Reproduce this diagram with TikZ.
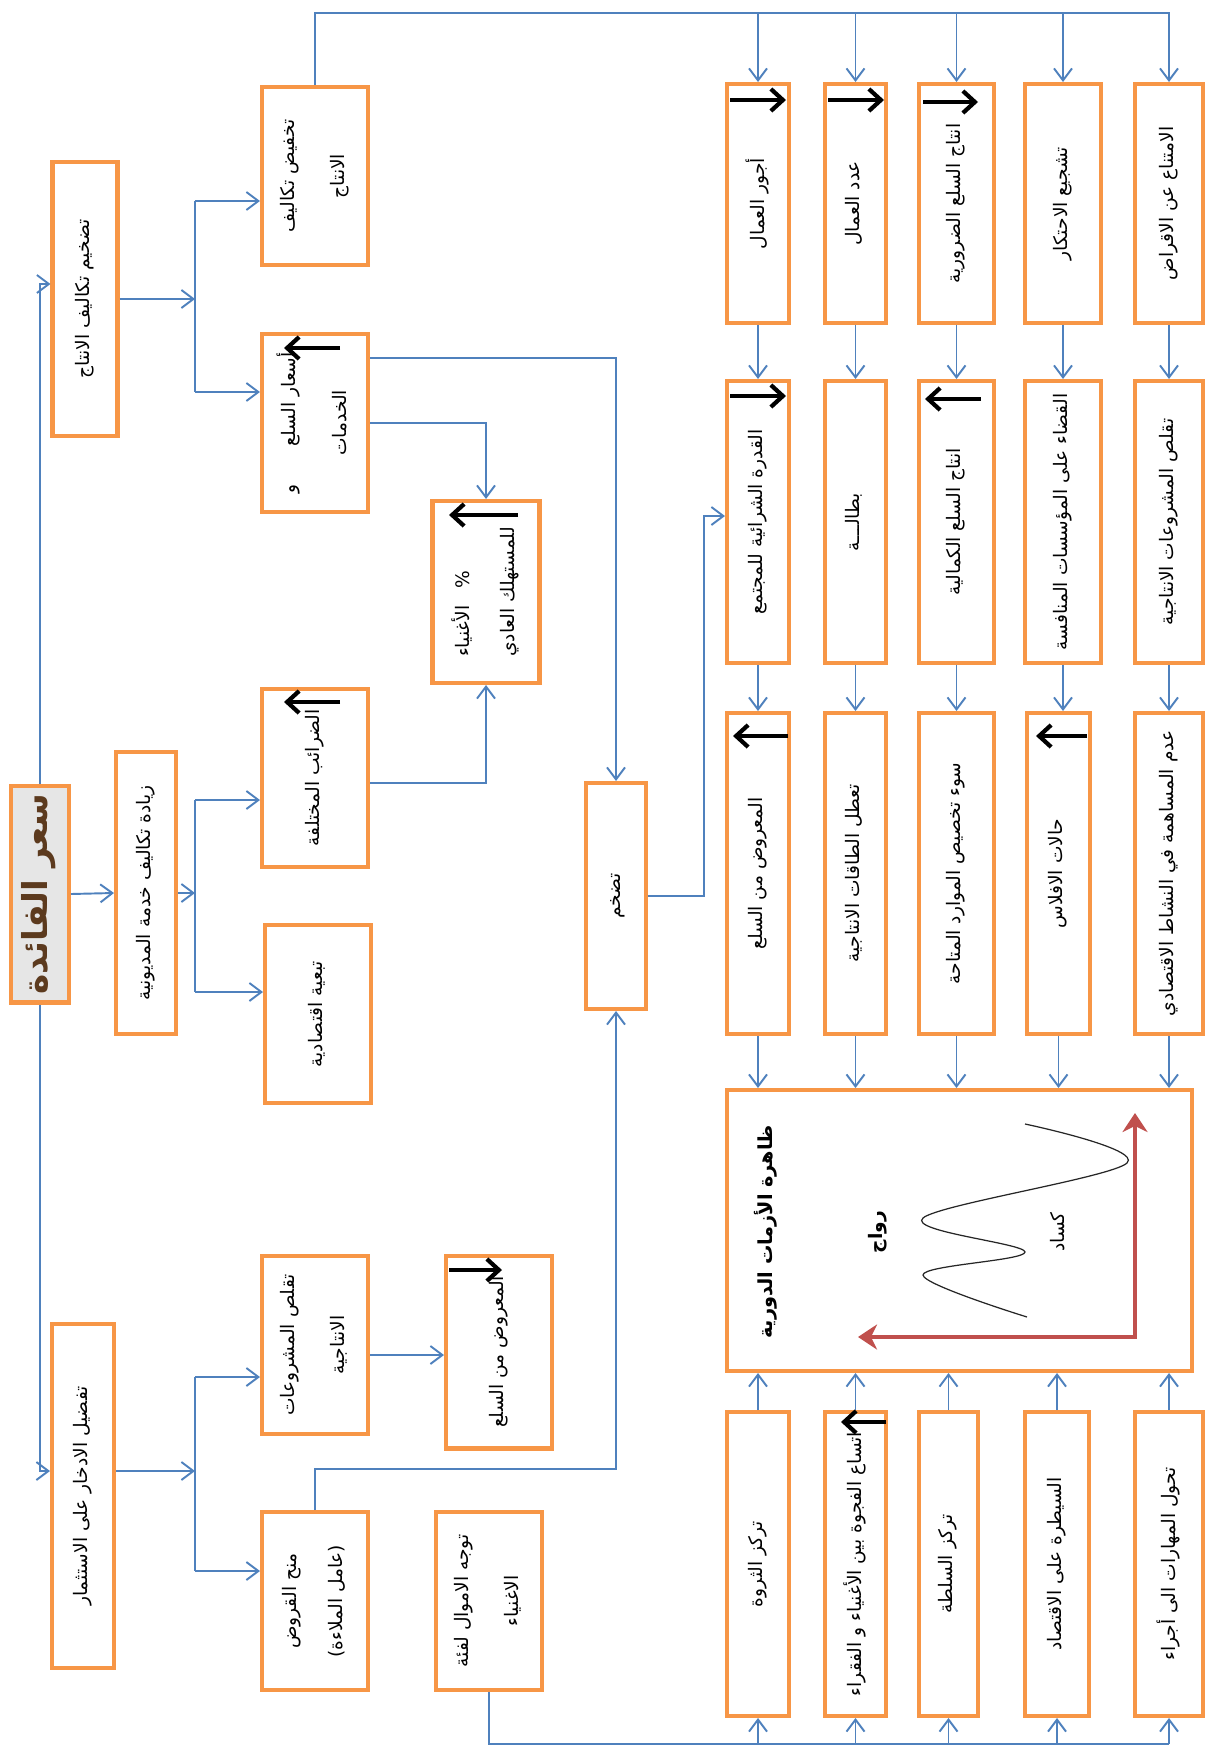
\documentclass[tikz,border=0pt]{standalone}
\usepackage{fontspec}
\usepackage{graphicx}
\usetikzlibrary{arrows.meta, positioning, calc}
\newfontfamily\arabicfont[Script=Arabic]{DejaVu Sans}
\TeXXeTstate=1
\definecolor{crOrange}{HTML}{F79646}
\definecolor{crBlue}{HTML}{4F81BD}
\definecolor{crRed}{HTML}{C0504D}
\definecolor{crBrown}{HTML}{5C3A1E}
\definecolor{crGrey}{HTML}{E6E6E6}
\newcommand{\artx}[1]{\beginR #1\endR}
\newcommand{\vtxt}[2][c]{\rotatebox{90}{\begin{tabular}{@{}#1@{}}#2\end{tabular}}}
\tikzset{
  ecbox/.style={draw=crOrange, line width=2.3pt, fill=white, inner sep=0pt,
    font=\arabicfont\fontsize{10.6}{12.5}\selectfont},
  keybox/.style={ecbox, fill=crGrey, text=crBrown,
    font=\arabicfont\bfseries\fontsize{19.5}{22}\selectfont},
  colbox/.style={ecbox, minimum width=2.12cm, minimum height=3.56cm},
  rowa/.style={ecbox, minimum height=4.78cm},
  rowb/.style={ecbox, minimum height=5.64cm},
  rowc/.style={ecbox, minimum height=6.42cm},
  rowd/.style={ecbox, minimum height=6.08cm},
  inlabel/.style={inner sep=0pt, font=\arabicfont\fontsize{10.6}{12.5}\selectfont},
  link/.style={crBlue, line width=1.1pt},
  flow/.style={link, -{Straight Barb[length=2.4mm, width=3.6mm]}},
  trend/.style={black, line width=2.4pt, -{Straight Barb[length=2.4mm, width=4.4mm]}},
  axis/.style={crRed, line width=2.4pt,
    {Stealth[length=3.8mm, width=5mm, inset=1.2mm]}-{Stealth[length=3.8mm, width=5mm, inset=1.2mm]}},
  wave/.style={black!85, line width=0.7pt}
}
\begin{document}
\begin{tikzpicture}[x=0.02cm, y=-0.02cm]
  \useasboundingbox (0,0) rectangle (1208,1747);

  \node[keybox, minimum width=1.16cm, minimum height=4.34cm] (faida) at (40,894) {\vtxt{\artx{سعر الفائدة}}};
  \node[ecbox, minimum width=1.3cm, minimum height=5.5cm] (tadkhim) at (85,299) {\vtxt{\artx{تضخيم تكاليف الانتاج}}};
  \node[ecbox, minimum width=1.2cm, minimum height=5.64cm] (ziyada) at (146,893) {\vtxt{\artx{زيادة تكاليف خدمة المديونية}}};
  \node[ecbox, minimum width=1.24cm, minimum height=6.88cm] (tafdil) at (83,1496) {\vtxt{\artx{تفضيل الادخار على الاستثمار}}};

  \node[colbox] (takhfid) at (315,176) {\vtxt{\artx{تخفيض تكاليف}\\[16pt]\artx{الانتاج}}};
  \node[colbox] (asaar) at (315,423) {\vtxt{\artx{أسعار السلع\hspace{22pt}و}\\[16pt]\artx{الخدمات}}};
  \node[colbox] (daraib) at (315,778) {\vtxt{\artx{الضرائب المختلفة}}};
  \node[colbox] (tabaiya) at (318,1014) {\vtxt{\artx{تبعية اقتصادية}}};
  \node[colbox] (taqallus) at (315,1345) {\vtxt{\artx{تقلص المشروعات}\\[16pt]\artx{الانتاجية}}};
  \node[colbox] (manh) at (315,1601) {\vtxt{\artx{منح القروض}\\[14pt]\artx{(عامل الملاءة)}}};

  \node[ecbox, minimum width=2.14cm, minimum height=3.64cm] (aghniya) at (486,592) {\vtxt[l]{\artx{\%\hspace{10pt}الأغنياء}\\[13pt]\artx{للمستهلك العادي}}};
  \node[ecbox, minimum width=1.2cm, minimum height=4.52cm] (tadakhum) at (616,896) {\vtxt{\artx{تضخم}}};
  \node[ecbox, minimum width=2.12cm, minimum height=3.86cm] (maarud) at (499,1352) {\vtxt{\artx{المعروض من السلع}}};
  \node[colbox] (tawajjuh) at (489,1601) {\vtxt{\artx{توجه الاموال لفئة}\\[16pt]\artx{الاغنياء}}};

  \node[rowa, minimum width=1.24cm] (a1) at (758,203.5) {\vtxt{\artx{أجور العمال}}};
  \node[rowa, minimum width=1.22cm] (a2) at (855.5,203.5) {\vtxt{\artx{عدد العمال}}};
  \node[rowa, minimum width=1.5cm] (a3) at (956.5,203.5) {\vtxt{\artx{انتاج السلع الضرورية}}};
  \node[rowa, minimum width=1.52cm] (a4) at (1063,203.5) {\vtxt{\artx{تشجيع الاحتكار}}};
  \node[rowa, minimum width=1.36cm] (a5) at (1169,203.5) {\vtxt{\artx{الامتناع عن الاقراض}}};

  \node[rowb, minimum width=1.24cm] (b1) at (758,522) {\vtxt{\artx{القدرة الشرائية للمجتمع}}};
  \node[rowb, minimum width=1.22cm] (b2) at (855.5,522) {\vtxt{\artx{بطالـــة}}};
  \node[rowb, minimum width=1.5cm] (b3) at (956.5,522) {\vtxt{\artx{انتاج السلع الكمالية}}};
  \node[rowb, minimum width=1.52cm] (b4) at (1063,522) {\vtxt{\artx{القضاء على المؤسسات المنافسة}}};
  \node[rowb, minimum width=1.36cm] (b5) at (1169,522) {\vtxt{\artx{تقلص المشروعات الانتاجية}}};

  \node[rowc, minimum width=1.24cm] (c1) at (758,873.5) {\vtxt{\artx{المعروض من السلع}}};
  \node[rowc, minimum width=1.22cm] (c2) at (855.5,873.5) {\vtxt{\artx{تعطل الطاقات الانتاجية}}};
  \node[rowc, minimum width=1.5cm] (c3) at (956.5,873.5) {\vtxt{\artx{سوء تخصيص الموارد المتاحة}}};
  \node[rowc, minimum width=1.26cm] (c4) at (1058.5,873.5) {\vtxt{\artx{حالات الافلاس}}};
  \node[rowc, minimum width=1.36cm] (c5) at (1169,873.5) {\vtxt{\artx{عدم المساهمة في النشاط الاقتصادي}}};

  \node[ecbox, minimum width=9.3cm, minimum height=5.62cm] (big) at (959.5,1230.5) {};
  \node[inlabel, font=\arabicfont\bfseries\fontsize{11}{13}\selectfont] (title) at (767,1232) {\vtxt{\artx{ظاهرة الأزمات الدورية}}};
  \node[inlabel, font=\arabicfont\bfseries\fontsize{10.6}{12.5}\selectfont] (rawaj) at (878,1232) {\vtxt{\artx{رواج}}};
  \node[inlabel] (kasad) at (1060,1232) {\vtxt{\artx{كساد}}};

  \node[rowd, minimum width=1.24cm] (d1) at (758,1564) {\vtxt{\artx{تركز الثروة}}};
  \node[rowd, minimum width=1.22cm] (d2) at (855.5,1564) {\vtxt{\artx{اتساع الفجوة بين الأغنياء و الفقراء}}};
  \node[rowd, minimum width=1.18cm] (d3) at (948.5,1564) {\vtxt{\artx{تركز السلطة}}};
  \node[rowd, minimum width=1.28cm] (d4) at (1057,1564) {\vtxt{\artx{السيطرة على الاقتصاد}}};
  \node[rowd, minimum width=1.36cm] (d5) at (1169,1564) {\vtxt{\artx{تحول المهارات الى أجراء}}};

  \coordinate (topR) at (1170,13);
  \coordinate (botR) at (1169,1744);
  \coordinate (j1) at (195,299);
  \coordinate (j1t) at (195,201);
  \coordinate (j1b) at (195,392);
  \coordinate (j2) at (195,893);
  \coordinate (j2t) at (195,800);
  \coordinate (j2b) at (195,992);
  \coordinate (j3) at (195,1471);
  \coordinate (j3t) at (195,1377);
  \coordinate (j3b) at (195,1571);

  \draw[flow] (faida.north) |- ([yshift=0.3cm]tadkhim.west);
  \draw[flow] (faida.south) |- ([yshift=0.5cm]tafdil.west);
  \draw[flow] (faida.east) -- (ziyada.west);

  \draw[flow] (tadkhim.east) -- (j1);
  \draw[link] (j1t) -- (j1b);
  \draw[flow] (j1t) -- (j1t -| takhfid.west);
  \draw[flow] (j1b) -- (j1b -| asaar.west);
  \draw[flow] (ziyada.east) -- (j2);
  \draw[link] (j2t) -- (j2b);
  \draw[flow] (j2t) -- (j2t -| daraib.west);
  \draw[flow] (j2b) -- (j2b -| tabaiya.west);
  \draw[flow] ([yshift=0.5cm]tafdil.east) -- (j3);
  \draw[link] (j3t) -- (j3b);
  \draw[flow] (j3t) -- (j3t -| taqallus.west);
  \draw[flow] (j3b) -- (j3b -| manh.west);

  \draw[flow] ([yshift=1.3cm]asaar.east) -| (tadakhum.north);
  \draw[flow] (asaar.east) -| (aghniya.north);
  \draw[flow] ([yshift=-0.1cm]daraib.east) -| (aghniya.south);
  \draw[flow] (manh.north) -- ++(0,-41) -| (tadakhum.south);
  \draw[flow] (tadakhum.east) -- ++(56,0) |- ([yshift=0.12cm]b1.west);
  \draw[flow] ([yshift=-0.2cm]taqallus.east) -- ([yshift=-0.2cm]taqallus.east -| maarud.west);

  \draw[link] (takhfid.north) |- (topR);
  \draw[flow] (a1.north |- topR) -- (a1.north);
  \draw[flow] (a2.north |- topR) -- (a2.north);
  \draw[flow] (a3.north |- topR) -- (a3.north);
  \draw[flow] (a4.north |- topR) -- (a4.north);
  \draw[flow] (a5.north |- topR) -- (a5.north);

  \draw[flow] (a1) -- (b1);
  \draw[flow] (a2) -- (b2);
  \draw[flow] (a3) -- (b3);
  \draw[flow] (a4) -- (b4);
  \draw[flow] (a5) -- (b5);
  \draw[flow] (b1) -- (c1);
  \draw[flow] (b2) -- (c2);
  \draw[flow] (b3) -- (c3);
  \draw[flow] (b4.south) -- (b4.south |- c4.north);
  \draw[flow] (b5) -- (c5);
  \draw[flow] (c1.south) -- (c1.south |- big.north);
  \draw[flow] (c2.south) -- (c2.south |- big.north);
  \draw[flow] (c3.south) -- (c3.south |- big.north);
  \draw[flow] (c4.south) -- (c4.south |- big.north);
  \draw[flow] (c5.south) -- (c5.south |- big.north);
  \draw[flow] (d1.north) -- (d1.north |- big.south);
  \draw[flow] (d2.north) -- (d2.north |- big.south);
  \draw[flow] (d3.north) -- (d3.north |- big.south);
  \draw[flow] (d4.north) -- (d4.north |- big.south);
  \draw[flow] (d5.north) -- (d5.north |- big.south);

  \draw[link] (tawajjuh.south) |- (botR);
  \draw[flow] (d1.south |- botR) -- (d1.south);
  \draw[flow] (d2.south |- botR) -- (d2.south);
  \draw[flow] (d3.south |- botR) -- (d3.south);
  \draw[flow] (d4.south |- botR) -- (d4.south);
  \draw[flow] (d5.south |- botR) -- (d5.south);

  \draw[trend] (340,348) -- (284,348);
  \draw[trend] (340,702) -- (284,702);
  \draw[trend] (518,515) -- (449,515);
  \draw[trend] (449,1270) -- (502,1270);
  \draw[trend] (730,100) -- (786,100);
  \draw[trend] (828,100) -- (884,100);
  \draw[trend] (923,102) -- (978,102);
  \draw[trend] (730,396) -- (786,396);
  \draw[trend] (981,399) -- (925,399);
  \draw[trend] (788,736) -- (733,736);
  \draw[trend] (1087,736) -- (1036,736);
  \draw[trend] (886,1422) -- (841,1422);

  \draw[axis] (858,1337) -- (1135,1337) -- (1135,1113);
  \draw[wave] plot[smooth, tension=0.55] coordinates {(1025,1124) (1127,1163) (923,1218) (1025,1252) (923,1275) (1027,1317)};
\end{tikzpicture}
\end{document}
